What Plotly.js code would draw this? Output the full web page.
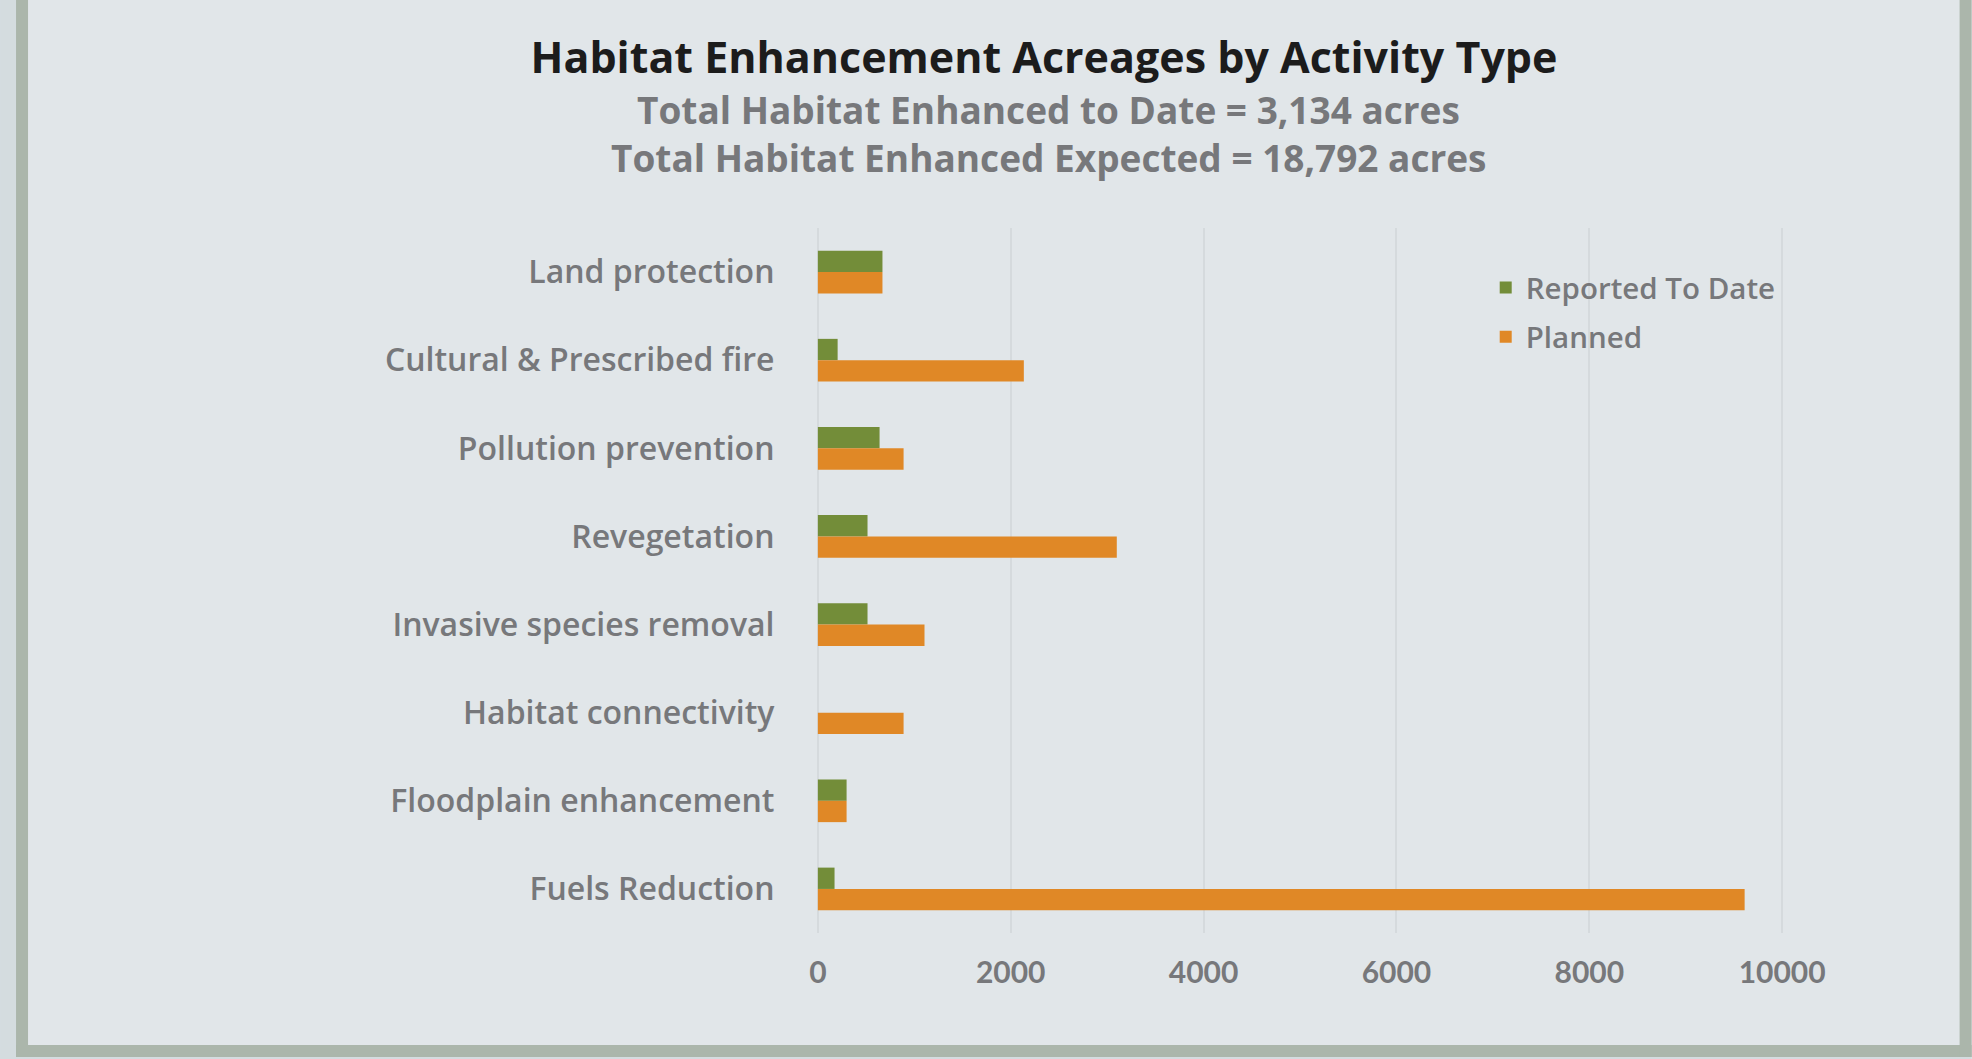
<!DOCTYPE html>
<html>
<head>
<meta charset="utf-8">
<script src="https://cdn.plot.ly/plotly-3.0.1.min.js"></script>
<style>
  html, body { margin: 0; padding: 0; background: #e1e6e9; }
  #chart { width: 1972px; height: 1059px; }
</style>
</head>
<body>
<div id="chart"></div>
<script>
// ---- Data ----
const categories = [
  'Land protection',
  'Cultural & Prescribed fire',
  'Pollution prevention',
  'Revegetation',
  'Invasive species removal',
  'Habitat connectivity',
  'Floodplain enhancement',
  'Fuels Reduction'
];
const reportedToDate = [670, 205, 640, 515, 515, 0, 298, 173];
const planned = [670, 2136, 889, 3100, 1106, 889, 298, 9611];
const seriesNames = ['Reported To Date', 'Planned'];
const xTickValues = [0, 2000, 4000, 6000, 8000, 10000];
const titleText = 'Habitat Enhancement Acreages by Activity Type';
const subtitleLines = [
  'Total Habitat Enhanced to Date = 3,134 acres',
  'Total Habitat Enhanced Expected = 18,792 acres'
];

// ---- Layout geometry (pixels) ----
const W = 1972, Hgt = 1059;
const PAD = 40;                // range padding so edge gridlines are drawn
const SCALE = 0.09645;         // px per unit
const L = 818 - PAD * SCALE, R = 1782.5 + PAD * SCALE, T = 228.3, B = 933;
const PW = R - L, PH = B - T;
const px = v => (v - L) / PW;
const py = v => (B - v) / PH;

const FONT = '"Open Sans", Lato, sans-serif';
const NUMFONT = 'Lato, "Open Sans", sans-serif';
const GRAY = '#77787b';

const traces = [
  {
    type: 'bar', orientation: 'h', name: seriesNames[0],
    y: categories, x: reportedToDate,
    marker: { color: '#738d39' },
    legendgroup: 'a', hoverinfo: 'x+y'
  },
  {
    type: 'bar', orientation: 'h', name: seriesNames[1],
    y: categories, x: planned,
    marker: { color: '#e08826' },
    legendgroup: 'b', hoverinfo: 'x+y'
  }
];

const rect = (x0, y0, x1, y1, color) => ({
  type: 'rect', xref: 'paper', yref: 'paper',
  x0: px(x0), x1: px(x1), y0: py(y1), y1: py(y0),
  fillcolor: color, line: { width: 0 }, layer: 'below'
});

const layout = {
  width: W, height: Hgt,
  paper_bgcolor: '#e1e6e9', plot_bgcolor: '#e1e6e9',
  margin: { l: L, r: W - R, t: T, b: Hgt - B, pad: 0 },
  barmode: 'group', bargap: 0.516, bargroupgap: 0,
  font: { family: FONT, color: GRAY },
  title: {
    text: titleText,
    font: { family: FONT, size: 43, color: '#1c1c1c', weight: 'bold' },
    xref: 'container', yref: 'container',
    x: 1044 / W, xanchor: 'center',
    y: 1 - 58 / Hgt, yanchor: 'middle'
  },
  annotations: [
    {
      text: subtitleLines[0], xref: 'paper', yref: 'paper',
      x: px(1049), y: py(110), xanchor: 'center', yanchor: 'middle',
      showarrow: false,
      font: { family: FONT, size: 37, color: GRAY, weight: 'bold' }
    },
    {
      text: subtitleLines[1], xref: 'paper', yref: 'paper',
      x: px(1049), y: py(157.5), xanchor: 'center', yanchor: 'middle',
      showarrow: false,
      font: { family: FONT, size: 37, color: GRAY, weight: 'bold' }
    }
  ],
  xaxis: {
    range: [-PAD, 10000 + PAD],
    tickvals: xTickValues,
    ticktext: xTickValues.map(String),
    showgrid: true, gridcolor: '#d5dadd', gridwidth: 2,
    zeroline: false, showline: false,
    ticks: 'outside', ticklen: 13, tickcolor: 'rgba(0,0,0,0)',
    tickfont: { family: NUMFONT, size: 30, color: GRAY, weight: 'bold' },
    fixedrange: true
  },
  yaxis: {
    type: 'category',
    categoryorder: 'array', categoryarray: categories,
    autorange: 'reversed',
    showgrid: false, zeroline: false, showline: false,
    ticks: 'outside', ticklen: 36 - PAD * SCALE, tickcolor: 'rgba(0,0,0,0)',
    tickfont: { family: FONT, size: 32, color: GRAY, weight: 600 },
    fixedrange: true
  },
  showlegend: true,
  legend: {
    x: px(1486), y: py(262), xanchor: 'left', yanchor: 'top',
    bgcolor: 'rgba(0,0,0,0)',
    traceorder: 'normal+grouped', tracegroupgap: 8,
    font: { family: FONT, size: 29.5, color: GRAY, weight: 600 }
  },
  shapes: [
    rect(0, 0, 16, 1059, '#d4dcdf'),
    rect(16, 0, 28, 1057, '#abb6ab'),
    rect(16, 1045, 1972, 1057, '#abb6ab'),
    rect(1960, 0, 1972, 1057, '#abb6ab'),
    rect(0, 1057, 1972, 1059, '#d4dcdf')
  ]
};

Plotly.newPlot('chart', traces, layout, { displayModeBar: false });
</script>
</body>
</html>
